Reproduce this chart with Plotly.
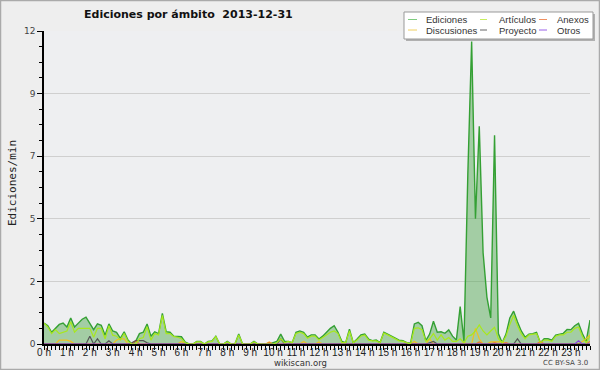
import pandas as pd
import plotly.graph_objects as go

# 10-minute bins over 2013-12-31
times = list(pd.date_range("2013-12-31 00:00", periods=144, freq="10min"))

ediciones = [
    0.8, 0.7, 0.45, 0.6, 0.75, 0.8,
    0.65, 1.0, 0.65, 0.8, 0.95, 1.03,
    0.8, 0.55, 0.77, 0.72, 0.34, 0.77,
    0.5, 0.45, 0.22, 0.47, 0.15, 0.0,
    0.1, 0.4, 0.45, 0.77, 0.3, 0.47,
    0.4, 1.17, 0.47, 0.45, 0.3, 0.28,
    0.28, 0.07, 0.0, 0.0, 0.1, 0.1,
    0.0, 0.1, 0.12, 0.3, 0.0, 0.0,
    0.1, 0.0, 0.0, 0.38, 0.0, 0.0,
    0.0, 0.1, 0.0, 0.0, 0.0, 0.0,
    0.05, 0.1, 0.38, 0.1, 0.1, 0.05,
    0.45, 0.5, 0.45, 0.26, 0.35, 0.35,
    0.19, 0.3, 0.45, 0.6, 0.7, 0.45,
    0.1, 0.05, 0.57, 0.05, 0.19, 0.35,
    0.38, 0.19, 0.13, 0.15, 0.05, 0.45,
    0.38, 0.3, 0.25, 0.15, 0.13, 0.05,
    0.03, 0.77, 0.83, 0.7, 0.13, 0.38,
    0.87, 0.45, 0.47, 0.41, 0.54, 0.3,
    0.15, 1.43, 0.1, 6.5, 11.6, 4.8,
    8.35, 3.5, 1.8, 1.0, 8.0, 0.4,
    0.05, 0.38, 1.0, 1.26, 0.85, 0.5,
    0.26, 0.38, 0.4, 0.45, 0.05, 0.2,
    0.2, 0.15, 0.34, 0.38, 0.41, 0.56,
    0.55, 0.7, 0.79, 0.4, 0.1, 0.92,
]

articulos = [
    0.8, 0.65, 0.4, 0.55, 0.4, 0.45,
    0.5, 0.85, 0.45, 0.6, 0.6, 0.6,
    0.6, 0.26, 0.6, 0.6, 0.2, 0.7,
    0.34, 0.3, 0.15, 0.4, 0.1, 0.0,
    0.0, 0.2, 0.25, 0.66, 0.15, 0.4,
    0.35, 1.1, 0.4, 0.4, 0.28, 0.26,
    0.2, 0.05, 0.0, 0.0, 0.08, 0.08,
    0.0, 0.08, 0.1, 0.28, 0.0, 0.0,
    0.08, 0.0, 0.0, 0.35, 0.0, 0.0,
    0.0, 0.08, 0.0, 0.0, 0.0, 0.0,
    0.0, 0.05, 0.2, 0.05, 0.1, 0.05,
    0.4, 0.45, 0.4, 0.22, 0.3, 0.3,
    0.15, 0.25, 0.35, 0.45, 0.5, 0.4,
    0.05, 0.05, 0.5, 0.05, 0.15, 0.3,
    0.35, 0.15, 0.12, 0.12, 0.05, 0.42,
    0.35, 0.28, 0.22, 0.12, 0.1, 0.05,
    0.0, 0.6, 0.62, 0.55, 0.1, 0.2,
    0.4, 0.15, 0.35, 0.15, 0.25, 0.1,
    0.1, 0.2, 0.05, 0.3, 0.35, 0.5,
    0.73, 0.5, 0.35, 0.5, 0.64, 0.2,
    0.05, 0.3, 0.75, 1.1, 0.7, 0.4,
    0.2, 0.35, 0.38, 0.4, 0.05, 0.15,
    0.15, 0.1, 0.3, 0.35, 0.35, 0.45,
    0.45, 0.6, 0.65, 0.3, 0.05, 0.3,
]

discusiones = [
    0, 0, 0, 0, 0.15, 0.15,
    0.15, 0.1, 0, 0, 0, 0,
    0, 0, 0, 0, 0, 0,
    0, 0.15, 0.2, 0.2, 0, 0,
    0, 0, 0, 0, 0, 0,
    0, 0, 0, 0, 0, 0,
    0.1, 0, 0, 0, 0, 0,
    0, 0, 0, 0, 0, 0,
    0, 0, 0, 0, 0, 0,
    0, 0, 0, 0, 0, 0.08,
    0, 0, 0, 0, 0, 0,
    0, 0, 0.1, 0, 0, 0,
    0.08, 0, 0, 0, 0, 0,
    0, 0, 0, 0, 0, 0,
    0, 0, 0, 0, 0, 0,
    0, 0, 0, 0, 0, 0,
    0, 0.1, 0, 0, 0, 0.2,
    0, 0, 0, 0, 0, 0,
    0, 0, 0.05, 0, 0, 0.6,
    0.2, 0, 0, 0.08, 0.08, 0.08,
    0.08, 0, 0, 0, 0, 0,
    0, 0, 0, 0, 0.05, 0,
    0, 0, 0, 0, 0, 0,
    0, 0, 0, 0.1, 0.2, 0.35,
]

proyecto = [0] * 144
for i, v in [(12, 0.3), (14, 0.2), (17, 0.12), (23, 0.05), (24, 0.13), (25, 0.13),
             (26, 0.13), (27, 0.05), (62, 0.2), (101, 0.05), (102, 0.1), (124, 0.2)]:
    proyecto[i] = v

anexos = [0] * 144
for i, v in [(24, 0.12), (59, 0.05), (114, 0.08), (118, 0.05), (121, 0.05),
             (130, 0.1), (143, 0.1)]:
    anexos[i] = v

otros = [0] * 144
for i, v in [(140, 0.12)]:
    otros[i] = v

hour_vals = [times[6 * h] for h in range(24)]
hour_labels = [f"{h} h" for h in range(24)]
y_vals = [0, 2.4, 4.8, 7.2, 9.6, 12]
y_labels = ["0", "2", "5", "7", "9", "12"]

series = [
    ("Ediciones", ediciones, "#34a034", "#7fcc7f"),
    ("Artículos", articulos, "#a8e81c", "#c8ee60"),
    ("Anexos", anexos, "#f07830", "#f09060"),
    ("Discusiones", discusiones, "#f0c020", "#f0d060"),
    ("Proyecto", proyecto, "#555555", "#666666"),
    ("Otros", otros, "#8a44e0", "#9a60e8"),
]

fig = go.Figure()
fig.add_trace(go.Scatter(x=times, y=ediciones, mode="lines", fill="tozeroy",
                         fillcolor="rgba(70,165,70,0.45)",
                         line=dict(color="#34a034", width=1.4), name="Ediciones"))
for name, vals, col, _ in [series[3], series[2], series[4], series[5], series[1]]:
    fig.add_trace(go.Scatter(x=times, y=vals, mode="lines",
                             line=dict(color=col, width=1.2), name=name))

W, H = 600, 370
L, R, T, B = 44, 10, 31, 26
pw, ph = W - L - R, H - T - B


def px(x):
    return (x - L) / pw


def py(y):
    return (H - B - y) / ph


shapes = []
annotations = []
# outer frame
shapes.append(dict(type="rect", xref="paper", yref="paper",
                   x0=px(0.5), x1=px(599.5), y0=py(369.5), y1=py(0.5),
                   line=dict(color="#aaaaaa", width=1.5), layer="below"))
# legend box with shadow
shapes.append(dict(type="rect", xref="paper", yref="paper",
                   x0=px(406), x1=px(595), y0=py(41), y1=py(14),
                   line=dict(width=0), fillcolor="#b0b0b0"))
shapes.append(dict(type="rect", xref="paper", yref="paper",
                   x0=px(404), x1=px(593), y0=py(39), y1=py(12),
                   line=dict(color="#999999", width=1), fillcolor="#ffffff"))
cols = [(408, 417, 424), (480, 487, 497), (539, 547, 555)]
rows = [19.5, 30]
legend_order = [series[0], series[1], series[2], series[3], series[4], series[5]]
for k, (name, _, _, lcol) in enumerate(legend_order):
    c = cols[k % 3]
    r = rows[k // 3]
    shapes.append(dict(type="line", xref="paper", yref="paper",
                       x0=px(c[0]), x1=px(c[1]), y0=py(r), y1=py(r),
                       line=dict(color=lcol, width=1)))
    annotations.append(dict(text=name, xref="paper", yref="paper",
                            x=px(c[2]), y=py(r), xanchor="left", yanchor="middle",
                            showarrow=False,
                            font=dict(family="Liberation Sans", size=9.5, color="#333333")))

annotations.append(dict(text="<b>Ediciones por ámbito  2013-12-31</b>", xref="paper",
                        yref="paper", x=px(188), y=py(14), xanchor="center",
                        yanchor="middle", showarrow=False,
                        font=dict(family="DejaVu Sans", size=11, color="#111111")))
annotations.append(dict(text="Ediciones/min", xref="paper", yref="paper",
                        x=px(12), y=py(183), xanchor="center", yanchor="middle",
                        textangle=-90, showarrow=False,
                        font=dict(family="DejaVu Sans Mono", size=11, color="#222222")))
annotations.append(dict(text="wikiscan.org", xref="paper", yref="paper",
                        x=px(300), y=py(363), xanchor="center", yanchor="middle",
                        showarrow=False,
                        font=dict(family="DejaVu Sans", size=8.5, color="#333333")))
annotations.append(dict(text="CC BY-SA 3.0", xref="paper", yref="paper",
                        x=px(590), y=py(363), xanchor="right", yanchor="middle",
                        showarrow=False,
                        font=dict(family="DejaVu Sans", size=7, color="#444444")))

fig.update_layout(
    width=W, height=H,
    margin=dict(l=L, r=R, t=T, b=B, pad=0, autoexpand=False),
    paper_bgcolor="#eeeeee",
    plot_bgcolor="#eeeff1",
    showlegend=False,
    shapes=shapes,
    annotations=annotations,
    xaxis=dict(
        type="date",
        range=[times[0], times[-1]],
        tickmode="array", tickvals=hour_vals, ticktext=hour_labels,
        tickangle=0, automargin=False, ticklabelstandoff=-6,
        ticks="outside", ticklen=4, tickcolor="#000000", tickwidth=1,
        showline=True, linecolor="#000000", linewidth=1.5,
        showgrid=False, zeroline=False,
        tickfont=dict(family="Liberation Sans", size=10, color="#222222"),
        minor=dict(dtick=600000, ticks="outside", ticklen=4,
                   tickcolor="#000000", showgrid=False),
    ),
    yaxis=dict(
        range=[0, 12],
        tickmode="array", tickvals=y_vals, ticktext=y_labels,
        automargin=False,
        ticks="outside", ticklen=5, tickcolor="#000000",
        showline=True, linecolor="#000000", linewidth=1.5,
        showgrid=True, gridcolor="#cfcfcf", gridwidth=1,
        zeroline=False,
        tickfont=dict(family="DejaVu Sans", size=9, color="#444444"),
        minor=dict(dtick=0.6, ticks="outside", ticklen=3,
                   tickcolor="#000000", showgrid=False),
    ),
)

fig.write_html("out.html", config={"displayModeBar": False},
               post_script="document.body.style.margin='0';document.body.style.padding='0';")
